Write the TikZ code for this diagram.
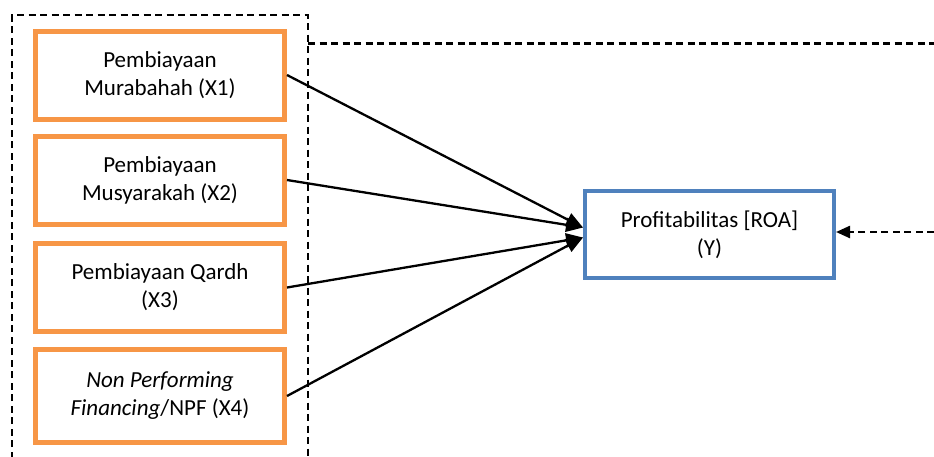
\documentclass[tikz,border=0pt]{standalone}
\usepackage{fontspec}
\setmainfont{Carlito}
\usetikzlibrary{arrows.meta}

\definecolor{varorange}{RGB}{247,150,70}
\definecolor{varblue}{RGB}{79,129,189}

\tikzset{
  indep/.style={draw=varorange,line width=5pt,rectangle,align=center,
                minimum width=249pt,minimum height=88pt,inner sep=2pt},
  dep/.style={draw=varblue,line width=4pt,rectangle,align=center,
              minimum width=249pt,minimum height=87pt,inner sep=2pt},
  effect/.style={line width=2.3pt,-{Triangle[length=17pt,width=14pt]}},
  frame/.style={line width=2.4pt,dash pattern=on 7pt off 4.5pt}
}

\begin{document}
\begin{tikzpicture}[x=1pt,y=-1pt,font=\fontsize{23}{28}\selectfont]
  \useasboundingbox (0,0) rectangle (934,456);

  \node[indep] (X1) at (160,75)    {Pembiayaan\\Murabahah (X1)};
  \node[indep] (X2) at (160,180)   {Pembiayaan\\Musyarakah (X2)};
  \node[indep] (X3) at (160,287.5) {Pembiayaan Qardh\\(X3)};
  \node[indep,minimum height=93pt] (X4) at (160,396)
        {\textit{Non Performing}\\\textit{Financing}/NPF (X4)};
  \node[dep]   (Y)  at (709.5,234.5) {Profitabilitas [ROA]\\(Y)};

  % dashed frame round the independent variables
  \draw[frame] (12,470) -- (12,15) -- (308,15) -- (308,470);
  \draw[frame] (308,43.5) -- (934,43.5);
  \coordinate (other) at (934,232);
  \draw[frame,-{Triangle[length=14pt,width=12pt]}] (other) -- (Y.east |- other);

  \path (X1.east) edge[effect] ([yshift=7pt]Y.west)
        (X2.east) edge[effect] ([yshift=7pt]Y.west)
        (X3.east) edge[effect] ([yshift=-3pt]Y.west)
        (X4.east) edge[effect] ([yshift=-3pt]Y.west);
\end{tikzpicture}
\end{document}
